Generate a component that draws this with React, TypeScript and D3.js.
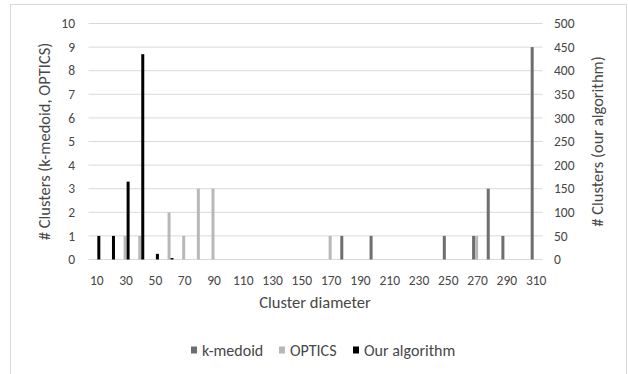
import React from 'react';
import * as d3 from 'd3';

// cluster diameter categories
const categories = [10, 20, 30, 40, 50, 60, 70, 80, 90, 100, 110, 120, 130, 140, 150, 160, 170, 180, 190, 200, 210, 220, 230, 240, 250, 260, 270, 280, 290, 300, 310];
const tickLabels = [10, 30, 50, 70, 90, 110, 130, 150, 170, 190, 210, 230, 250, 270, 290, 310];

// left axis series
const kMedoid = [0, 0, 0, 0, 0, 0, 0, 0, 0, 0, 0, 0, 0, 0, 0, 0, 0, 1, 0, 1, 0, 0, 0, 0, 1, 0, 1, 3, 1, 0, 9];
const optics = [0, 0, 1, 1, 0, 2, 1, 3, 3, 0, 0, 0, 0, 0, 0, 0, 1, 0, 0, 0, 0, 0, 0, 0, 0, 0, 1, 0, 0, 0, 0];
// right axis series
const ourAlgorithm = [50, 50, 165, 435, 12, 3, 0, 0, 0, 0, 0, 0, 0, 0, 0, 0, 0, 0, 0, 0, 0, 0, 0, 0, 0, 0, 0, 0, 0, 0, 0];

const leftTicks = [0, 1, 2, 3, 4, 5, 6, 7, 8, 9, 10];
const rightTicks = [0, 50, 100, 150, 200, 250, 300, 350, 400, 450, 500];

const seriesNames = ['k-medoid', 'OPTICS', 'Our algorithm'];
const seriesColors = ['#6e6e6e', '#b8b8b8', '#000000'];

const width = 628;
const height = 374;
const margin = { top: 23.5, right: 85.5, bottom: 114.5, left: 88.5 };
const font = 'Carlito, Lato, sans-serif';
const textColor = '#474747';

export default function App() {
  const innerW = width - margin.left - margin.right;
  const innerH = height - margin.top - margin.bottom;

  const x = d3.scaleBand<number>().domain(categories).range([margin.left, margin.left + innerW]);
  // three thin bars side by side inside each category
  const xs = d3.scaleBand<string>().domain(seriesNames).range([-4.5, 4.5]);
  const yL = d3.scaleLinear().domain([0, 10]).range([margin.top + innerH, margin.top]);
  const yR = d3.scaleLinear().domain([0, 500]).range([margin.top + innerH, margin.top]);

  const center = (c: number) => (x(c) ?? 0) + x.bandwidth() / 2;

  const series = [
    { name: seriesNames[0], values: kMedoid, y: yL, color: seriesColors[0] },
    { name: seriesNames[1], values: optics, y: yL, color: seriesColors[1] },
    { name: seriesNames[2], values: ourAlgorithm, y: yR, color: seriesColors[2] },
  ];

  const legendItems = [
    { name: seriesNames[0], color: seriesColors[0], x: 191 },
    { name: seriesNames[1], color: seriesColors[1], x: 279 },
    { name: seriesNames[2], color: seriesColors[2], x: 353 },
  ];

  const midY = margin.top + innerH / 2;

  return (
    <>
      <style>{`body{margin:0}`}</style>
      <svg width={width} height={height} style={{ display: 'block', background: '#fff' }} fontFamily={font}>
        <rect x={10.5} y={4.5} width={616} height={375} fill="#fff" stroke="#d9d9d9" />

        {/* gridlines */}
        {leftTicks.map(t => (
          <line key={t} x1={margin.left} x2={margin.left + innerW} y1={yL(t)} y2={yL(t)} stroke="#d9d9d9" strokeWidth={1} />
        ))}

        {/* bars */}
        {series.map(s => (
          <g key={s.name}>
            {s.values.map((v, i) => {
              if (!v) return null;
              const c = categories[i];
              return (
                <rect
                  key={c}
                  x={center(c) + (xs(s.name) ?? 0)}
                  y={s.y(v)}
                  width={xs.bandwidth()}
                  height={s.y(0) - s.y(v)}
                  fill={s.color}
                />
              );
            })}
          </g>
        ))}

        {/* left axis */}
        {leftTicks.map(t => (
          <text key={t} x={75} y={yL(t)} dy="0.35em" textAnchor="end" fontSize={13.5} fill={textColor}>{t}</text>
        ))}
        {/* right axis */}
        {rightTicks.map(t => (
          <text key={t} x={554} y={yR(t)} dy="0.35em" textAnchor="start" fontSize={13.5} fill={textColor}>{t}</text>
        ))}
        {/* x axis */}
        {tickLabels.map(t => (
          <text key={t} x={center(t) + 1} y={yL(0) + 25} textAnchor="middle" fontSize={13.5} fill={textColor}>{t}</text>
        ))}

        <text x={(margin.left + margin.left + innerW) / 2 - 0.5} y={308} textAnchor="middle" fontSize={16.5} fill={textColor}>Cluster diameter</text>
        <text transform={`translate(50,${midY}) rotate(-90)`} textAnchor="middle" fontSize={16.5} fill={textColor}>
          # Clusters (k-medoid, OPTICS)
        </text>
        <text transform={`translate(603,${midY}) rotate(-90)`} textAnchor="middle" fontSize={16.5} fill={textColor}>
          # Clusters (our algorithm)
        </text>

        {/* legend */}
        {legendItems.map(l => (
          <g key={l.name} transform={`translate(${l.x},350)`}>
            <rect x={0} y={-3.5} width={6} height={7} fill={l.color} />
            <text x={11} y={0} dy="0.35em" fontSize={16} fill={textColor}>{l.name}</text>
          </g>
        ))}
      </svg>
    </>
  );
}
